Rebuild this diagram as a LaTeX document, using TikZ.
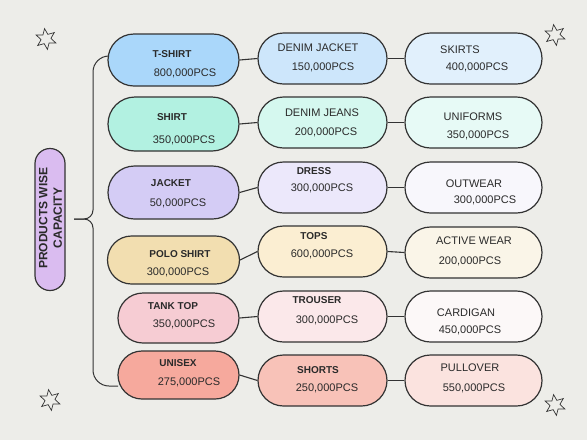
\documentclass[tikz,border=0pt]{standalone}
\usepackage{fontspec}
\setmainfont{Liberation Sans}
\usetikzlibrary{shapes.misc,shapes.geometric}
\definecolor{bg}{HTML}{EDEDE9}
\definecolor{edge}{HTML}{333333}
\definecolor{txt}{HTML}{2A2A2A}
\definecolor{cA1}{HTML}{AAD7FA}\definecolor{cA2}{HTML}{CDE6FB}\definecolor{cA3}{HTML}{E1F0FC}
\definecolor{cB1}{HTML}{B2F1E1}\definecolor{cB2}{HTML}{D5F8EF}\definecolor{cB3}{HTML}{E7FAF6}
\definecolor{cC1}{HTML}{D4CCF5}\definecolor{cC2}{HTML}{ECE8FB}\definecolor{cC3}{HTML}{F8F7FC}
\definecolor{cD1}{HTML}{F2DEB0}\definecolor{cD2}{HTML}{FBEED2}\definecolor{cD3}{HTML}{FAF5E8}
\definecolor{cE1}{HTML}{F6CCD3}\definecolor{cE2}{HTML}{FBE8EA}\definecolor{cE3}{HTML}{FCF8F8}
\definecolor{cF1}{HTML}{F6A99D}\definecolor{cF2}{HTML}{F8C2B8}\definecolor{cF3}{HTML}{FBE3DF}
\definecolor{cL}{HTML}{DABCF0}
\tikzset{
  pill/.style={rounded rectangle, draw=edge, line width=1.2pt, inner sep=0pt},
  ttl/.style={font=\bfseries\fontsize{10}{12}\selectfont, text=txt, inner sep=0pt},
  num/.style={font=\fontsize{11}{13}\selectfont, text=txt, inner sep=0pt},
  link/.style={draw=edge, line width=1.1pt},
  sparkle/.style={star, star points=6, star point ratio=2.1, draw=edge, line width=0.7pt, minimum size=21pt, inner sep=0pt}
}
\begin{document}
\begin{tikzpicture}[x=1pt,y=-1pt]
\fill[bg] (0,0) rectangle (587,440);
\useasboundingbox (0,0) rectangle (587,440);
% column 1
\node[pill, fill=cA1, minimum width=131, minimum height=52] (a1) at (173.5,60) {};
\node[pill, fill=cB1, minimum width=131, minimum height=54] (b1) at (173.5,124) {};
\node[pill, fill=cC1, minimum width=131, minimum height=53] (c1) at (173.5,192.5) {};
\node[pill, fill=cD1, minimum width=132, minimum height=48] (d1) at (173.5,260) {};
\node[pill, fill=cE1, minimum width=121, minimum height=50] (e1) at (178.5,318) {};
\node[pill, fill=cF1, minimum width=121, minimum height=48] (f1) at (178.5,375) {};
% column 2
\node[pill, fill=cA2, minimum width=129, minimum height=51] (a2) at (322.5,58.5) {};
\node[pill, fill=cB2, minimum width=129, minimum height=51] (b2) at (322.5,122.5) {};
\node[pill, fill=cC2, minimum width=129, minimum height=51] (c2) at (322.5,187.5) {};
\node[pill, fill=cD2, minimum width=129, minimum height=51] (d2) at (322.5,251.5) {};
\node[pill, fill=cE2, minimum width=129, minimum height=51] (e2) at (322.5,316.5) {};
\node[pill, fill=cF2, minimum width=129, minimum height=51] (f2) at (322.5,380.5) {};
% column 3
\node[pill, fill=cA3, minimum width=137, minimum height=51] (a3) at (473.5,58.5) {};
\node[pill, fill=cB3, minimum width=137, minimum height=51] (b3) at (473.5,122.5) {};
\node[pill, fill=cC3, minimum width=137, minimum height=51] (c3) at (473.5,187.5) {};
\node[pill, fill=cD3, minimum width=137, minimum height=51] (d3) at (473.5,252.5) {};
\node[pill, fill=cE3, minimum width=137, minimum height=51] (e3) at (473.5,316.5) {};
\node[pill, fill=cF3, minimum width=137, minimum height=51] (f3) at (473.5,380.5) {};
% connectors
\foreach \r in {a,b,c,d,e,f}{
  \draw[link] (\r1.east) -- (\r2.west);
  \draw[link] (\r2.east) -- (\r3.west);
}
% labels col 1
\node[ttl] (ta1) at (172,54) {T-SHIRT};
\node[num] (na1) at (185,73) {800,000PCS};
\node[ttl] (tb1) at (172,117) {SHIRT};
\node[num] (nb1) at (184,140) {350,000PCS};
\node[ttl] (tc1) at (171,183) {JACKET};
\node[num] (nc1) at (178,203) {50,000PCS};
\node[ttl] (td1) at (180,254) {POLO SHIRT};
\node[num] (nd1) at (178,272) {300,000PCS};
\node[ttl] (te1) at (173,306) {TANK TOP};
\node[num] (ne1) at (184,324) {350,000PCS};
\node[ttl] (tf1) at (178,363) {UNISEX};
\node[num] (nf1) at (189,382) {275,000PCS};
% labels col 2
\node[num] (ta2) at (318,48) {DENIM JACKET};
\node[num] (na2) at (323,67) {150,000PCS};
\node[num] (tb2) at (322,113) {DENIM JEANS};
\node[num] (nb2) at (326,132) {200,000PCS};
\node[ttl] (tc2) at (314,171) {DRESS};
\node[num] (nc2) at (322,188) {300,000PCS};
\node[ttl] (td2) at (314,236) {TOPS};
\node[num] (nd2) at (322,254) {600,000PCS};
\node[ttl] (te2) at (317,300) {TROUSER};
\node[num] (ne2) at (327,320) {300,000PCS};
\node[ttl] (tf2) at (318,370) {SHORTS};
\node[num] (nf2) at (327,388) {250,000PCS};
% labels col 3
\node[num] (ta3) at (460,50) {SKIRTS};
\node[num] (na3) at (477,67) {400,000PCS};
\node[num] (tb3) at (473,117) {UNIFORMS};
\node[num] (nb3) at (478,135) {350,000PCS};
\node[num] (tc3) at (474,184) {OUTWEAR};
\node[num] (nc3) at (485,200) {300,000PCS};
\node[num] (td3) at (474,241) {ACTIVE WEAR};
\node[num] (nd3) at (470,261) {200,000PCS};
\node[num] (te3) at (466,313) {CARDIGAN};
\node[num] (ne3) at (470,330) {450,000PCS};
\node[num] (tf3) at (470,368) {PULLOVER};
\node[num] (nf3) at (474,388) {550,000PCS};
% left label
\node[pill, fill=cL, minimum width=142, minimum height=30, rotate=90] (lab) at (50,219.5) {};
\node[ttl, rotate=90, align=center, font=\bfseries\fontsize{12}{14.5}\selectfont] (labt) at (50.5,218) {PRODUCTS WISE\\CAPACITY};
% brace
\coordinate (bt) at (108,56);
\coordinate (bb) at (118,386);
\coordinate (tip) at (74,219);
\draw[link, line width=1pt, rounded corners=16pt] (bt) -- (93,56) [rounded corners=9pt] -- (93,219) -- (tip);
\draw[link, line width=1pt, rounded corners=16pt] (bb) -- (93,386) [rounded corners=9pt] -- (93,219) -- (tip);
% stars
\node[sparkle, rotate=8] (s1) at (46,39) {};
\node[sparkle, rotate=8] (s2) at (555,35) {};
\node[sparkle, rotate=8] (s3) at (50,400) {};
\node[sparkle, rotate=8] (s4) at (555,405) {};
\end{tikzpicture}
\end{document}
